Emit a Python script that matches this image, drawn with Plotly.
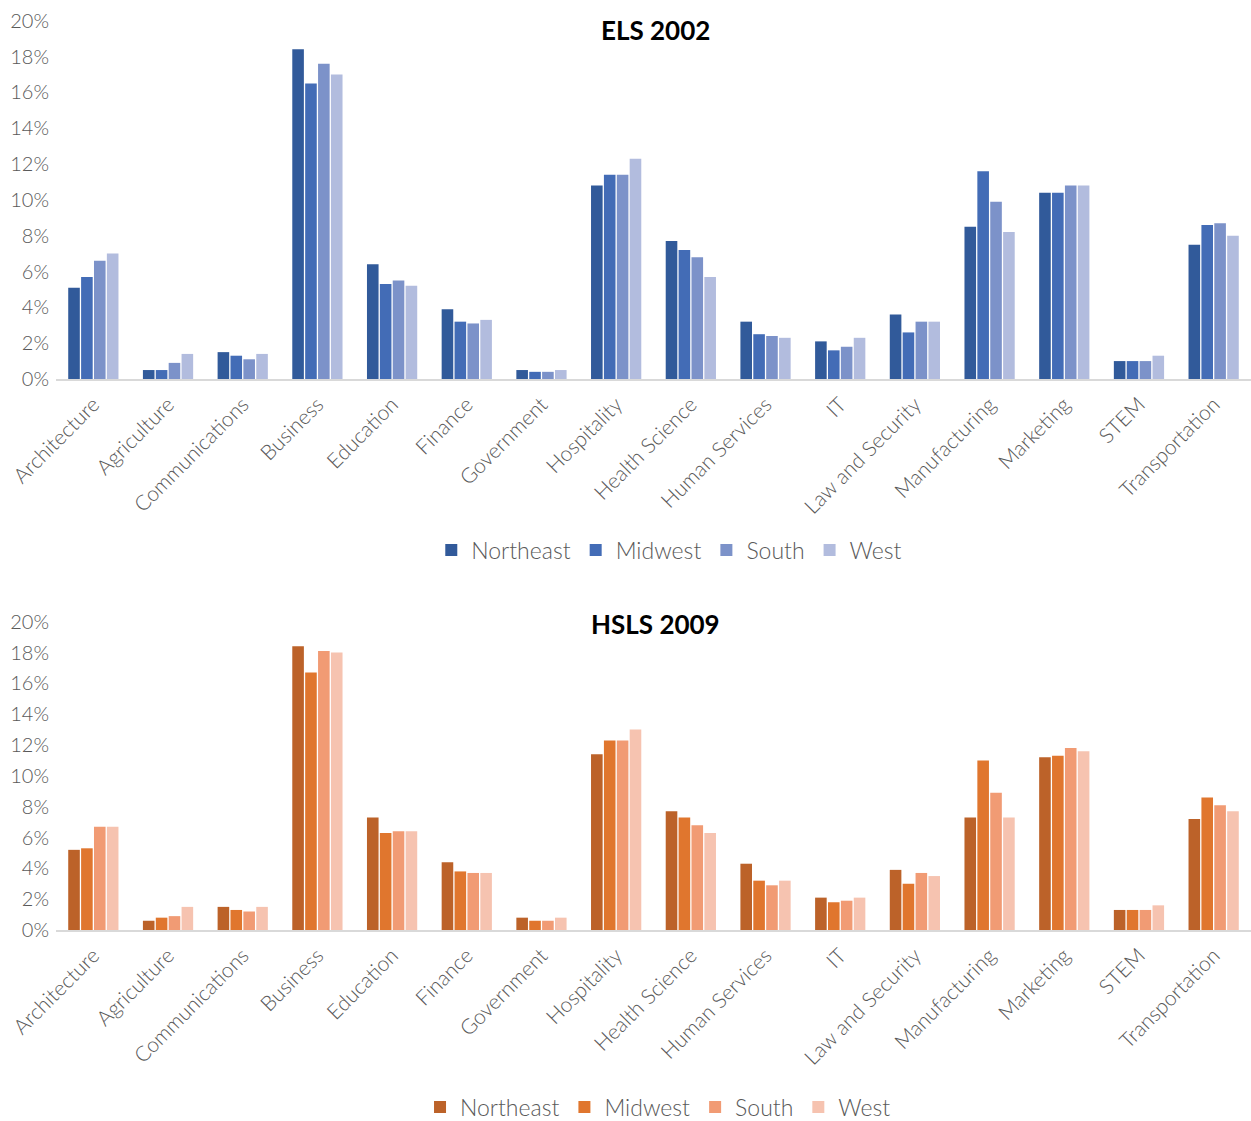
import plotly.graph_objects as go

categories = ["Architecture", "Agriculture", "Communications", "Business", "Education",
              "Finance", "Government", "Hospitality", "Health Science", "Human Services",
              "IT", "Law and Security", "Manufacturing", "Marketing", "STEM", "Transportation"]
regions = ["Northeast", "Midwest", "South", "West"]

els_northeast = [5.1, 0.5, 1.5, 18.4, 6.4, 3.9, 0.5, 10.8, 7.7, 3.2, 2.1, 3.6, 8.5, 10.4, 1.0, 7.5]
els_midwest = [5.7, 0.5, 1.3, 16.5, 5.3, 3.2, 0.4, 11.4, 7.2, 2.5, 1.6, 2.6, 11.6, 10.4, 1.0, 8.6]
els_south = [6.6, 0.9, 1.1, 17.6, 5.5, 3.1, 0.4, 11.4, 6.8, 2.4, 1.8, 3.2, 9.9, 10.8, 1.0, 8.7]
els_west = [7.0, 1.4, 1.4, 17.0, 5.2, 3.3, 0.5, 12.3, 5.7, 2.3, 2.3, 3.2, 8.2, 10.8, 1.3, 8.0]

hsls_northeast = [5.2, 0.6, 1.5, 18.4, 7.3, 4.4, 0.8, 11.4, 7.7, 4.3, 2.1, 3.9, 7.3, 11.2, 1.3, 7.2]
hsls_midwest = [5.3, 0.8, 1.3, 16.7, 6.3, 3.8, 0.6, 12.3, 7.3, 3.2, 1.8, 3.0, 11.0, 11.3, 1.3, 8.6]
hsls_south = [6.7, 0.9, 1.2, 18.1, 6.4, 3.7, 0.6, 12.3, 6.8, 2.9, 1.9, 3.7, 8.9, 11.8, 1.3, 8.1]
hsls_west = [6.7, 1.5, 1.5, 18.0, 6.4, 3.7, 0.8, 13.0, 6.3, 3.2, 2.1, 3.5, 7.3, 11.6, 1.6, 7.7]

y_ticks = [0, 2, 4, 6, 8, 10, 12, 14, 16, 18, 20]

blue_colors = ["#315A9A", "#436CB6", "#7C92C9", "#B2BCDE"]
orange_colors = ["#BC6229", "#E0762E", "#F19B74", "#F6C3B0"]

FONT = "Lato"
GREY = "#595959"

fig = go.Figure()

els_series = [els_northeast, els_midwest, els_south, els_west]
hsls_series = [hsls_northeast, hsls_midwest, hsls_south, hsls_west]

for name, vals, col in zip(regions, els_series, blue_colors):
    fig.add_trace(go.Bar(x=categories, y=vals, name=name, marker=dict(color=col, line=dict(width=0)),
                         xaxis="x", yaxis="y", legend="legend"))
for name, vals, col in zip(regions, hsls_series, orange_colors):
    fig.add_trace(go.Bar(x=categories, y=vals, name=name, marker=dict(color=col, line=dict(width=0)),
                         xaxis="x2", yaxis="y2", legend="legend2"))

H = 1121.0
W = 1251.0
xdom = [56 / W, 1.0]

axis_common_x = dict(type="category", showline=True, linecolor="#D9D9D9", linewidth=2,
                     showgrid=False, ticks="", tickangle=-45, automargin=False,
                     tickfont=dict(family=FONT, size=21, color=GREY, weight=300),
                     ticklabelstandoff=3, domain=xdom)
axis_common_y = dict(range=[0, 20], tickvals=y_ticks, ticktext=[f"{v}%" for v in y_ticks],
                     showgrid=False, zeroline=False, showline=False, ticks="", automargin=False,
                     tickfont=dict(family=FONT, size=20, color=GREY, weight=300),
                     ticklabelstandoff=6)

fig.update_layout(
    width=1251, height=1121,
    margin=dict(l=0, r=0, t=0, b=0, autoexpand=False),
    paper_bgcolor="white", plot_bgcolor="white",
    barmode="group", bargap=0.31, bargroupgap=0.1,
    xaxis=dict(axis_common_x, anchor="y"),
    yaxis=dict(axis_common_y, domain=[(H - 379) / H, (H - 20.7) / H], anchor="x"),
    xaxis2=dict(axis_common_x, anchor="y2"),
    yaxis2=dict(axis_common_y, domain=[(H - 930) / H, (H - 621.7) / H], anchor="x2"),
    legend=dict(orientation="h", x=0.535, xanchor="center", y=(H - 550) / H, yanchor="middle",
                font=dict(family=FONT, size=23, color=GREY, weight=300), itemwidth=30),
    legend2=dict(orientation="h", x=0.526, xanchor="center", y=(H - 1107) / H, yanchor="middle",
                 font=dict(family=FONT, size=23, color=GREY, weight=300), itemwidth=30),
    annotations=[
        dict(text="<b>ELS 2002</b>", xref="paper", yref="paper", x=655 / W, y=(H - 30) / H,
             xanchor="center", yanchor="middle", showarrow=False,
             font=dict(family=FONT, size=26, color="black")),
        dict(text="<b>HSLS 2009</b>", xref="paper", yref="paper", x=655 / W, y=(H - 624) / H,
             xanchor="center", yanchor="middle", showarrow=False,
             font=dict(family=FONT, size=26, color="black")),
    ],
)

fig.write_html("out.html")
